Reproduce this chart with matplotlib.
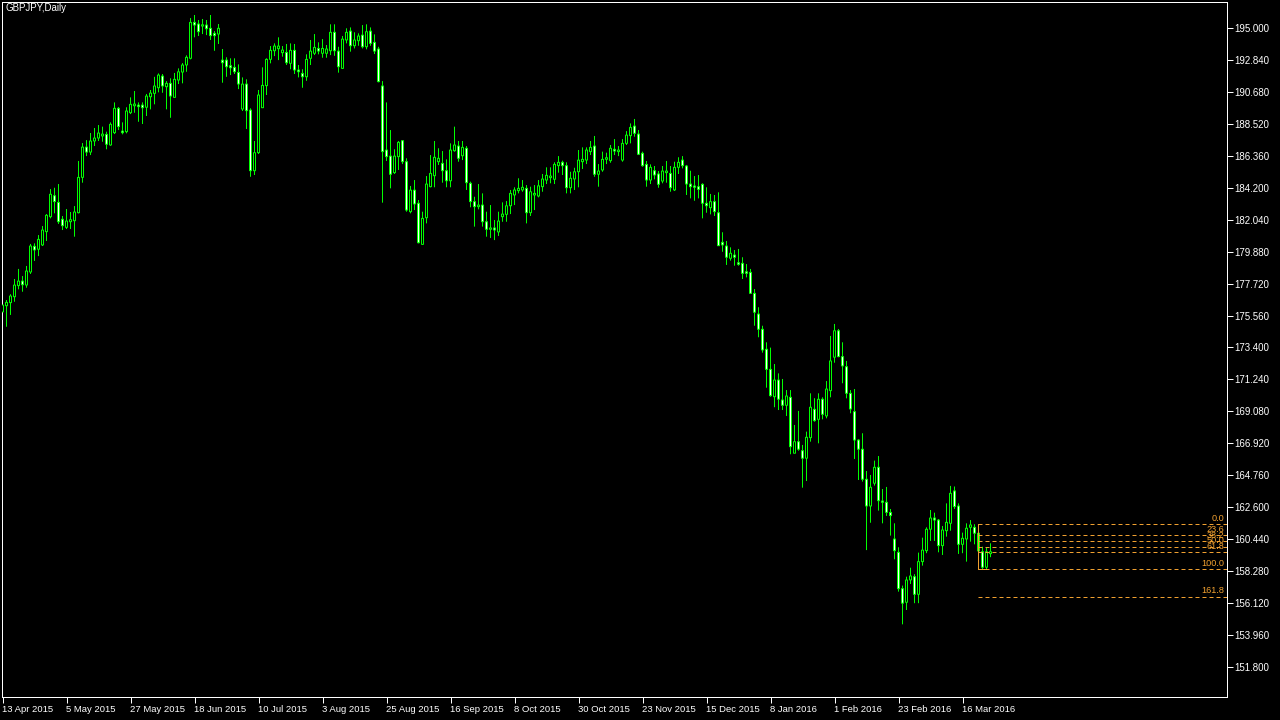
import matplotlib
matplotlib.use("Agg")
import matplotlib.pyplot as plt
import numpy as np

# GBPJPY daily bars, 13 Apr 2015 .. end of Mar 2016
opens = [
    175.80, 176.22, 176.43, 176.83, 177.58, 177.89, 177.62, 178.50, 180.24, 180.04,
    180.33, 181.23, 182.24, 183.66, 183.21, 182.07, 181.52, 181.90, 181.97, 182.51,
    184.90, 186.95, 186.61, 187.36, 187.56, 187.70, 187.81, 187.09, 187.92, 189.57,
    188.03, 187.99, 189.27, 189.74, 189.79, 189.79, 189.64, 190.35, 190.58, 190.96,
    191.75, 191.03, 191.26, 190.31, 191.48, 192.02, 192.50, 192.95, 195.38, 195.27,
    195.13, 195.20, 194.98, 194.64, 194.59, 192.83, 192.83, 192.45, 192.34, 192.00,
    189.52, 191.21, 189.45, 185.35, 186.57, 189.61, 191.10, 192.88, 193.46, 193.60,
    193.33, 193.35, 192.61, 193.49, 192.16, 191.93, 191.70, 192.95, 193.29, 193.62,
    193.29, 193.29, 193.46, 194.71, 193.44, 192.27, 194.19, 194.79, 193.80, 194.14,
    194.52, 193.73, 194.79, 194.03, 193.58, 191.08, 186.75, 186.34, 185.22, 186.30,
    187.38, 185.96, 182.58, 184.04, 183.15, 180.37, 182.17, 184.27, 185.01, 185.96,
    185.85, 185.35, 184.67, 186.70, 187.02, 186.36, 186.87, 184.50, 183.26, 182.92,
    183.03, 181.90, 181.39, 181.48, 181.21, 182.24, 182.40, 182.98, 183.71, 184.00,
    184.05, 184.16, 182.51, 183.71, 183.64, 184.27, 184.72, 184.88, 184.77, 185.69,
    185.92, 185.69, 184.20, 184.79, 185.28, 185.96, 186.07, 186.64, 187.02, 185.11,
    185.40, 186.12, 186.03, 186.80, 186.64, 186.07, 187.20, 187.72, 188.37, 187.83,
    186.53, 185.78, 184.72, 185.35, 185.13, 184.65, 185.22, 185.17, 184.05, 185.58,
    186.07, 185.67, 184.45, 184.32, 184.27, 184.43, 183.15, 182.85, 183.26, 182.51,
    180.51, 180.26, 179.43, 179.65, 179.13, 179.09, 178.52, 178.48, 177.06, 175.66,
    174.63, 173.28, 171.92, 170.07, 171.20, 169.85, 169.49, 170.03, 166.25, 167.03,
    166.42, 165.91, 167.30, 169.22, 168.54, 169.90, 168.77, 170.48, 172.74, 174.53,
    172.78, 172.10, 170.30, 169.06, 167.14, 166.52, 164.49, 162.68, 164.22, 165.30,
    163.02, 162.93, 162.25, 160.45, 159.55, 157.09, 156.17, 157.68, 157.90, 156.71,
    158.92, 159.66, 161.11, 161.87, 161.73, 160.00, 161.01, 161.51, 163.70, 162.68,
    160.09, 160.45, 161.24, 161.24, 160.84, 159.59, 158.54, 159.46,
]
highs = [
    176.75, 176.61, 177.00, 178.03, 178.71, 178.23, 178.91, 180.40, 180.44, 181.00,
    181.61, 182.42, 184.11, 184.20, 184.45, 182.29, 182.76, 182.56, 182.96, 186.01,
    187.22, 187.42, 187.90, 188.24, 188.44, 188.33, 187.99, 188.62, 189.97, 189.66,
    188.62, 189.64, 190.31, 190.74, 189.97, 189.97, 190.54, 190.81, 191.70, 191.93,
    191.89, 191.41, 191.60, 191.96, 192.27, 192.63, 193.15, 195.67, 195.88, 195.54,
    195.61, 195.54, 195.88, 194.79, 195.27, 193.58, 193.02, 192.95, 192.95, 192.54,
    191.66, 191.53, 189.57, 187.36, 190.81, 192.34, 192.95, 193.78, 193.96, 194.37,
    193.78, 193.92, 193.96, 193.92, 192.50, 192.21, 193.22, 194.19, 194.59, 194.03,
    194.25, 193.85, 195.25, 195.25, 193.73, 194.46, 194.98, 195.04, 194.71, 194.64,
    195.20, 195.25, 195.04, 194.57, 193.73, 191.41, 189.97, 188.10, 186.80, 187.36,
    187.42, 186.19, 184.32, 184.72, 183.37, 182.58, 184.99, 186.41, 187.36, 186.87,
    186.68, 186.12, 187.20, 188.33, 187.36, 187.36, 187.02, 184.61, 183.59, 184.45,
    183.82, 182.58, 183.03, 182.02, 182.58, 183.21, 183.30, 184.05, 184.23, 184.84,
    184.72, 184.38, 184.27, 184.38, 184.72, 185.13, 185.58, 185.58, 185.92, 186.34,
    186.03, 185.92, 185.28, 185.55, 186.75, 186.93, 186.93, 187.36, 187.70, 185.80,
    186.64, 186.57, 187.09, 187.49, 187.02, 187.49, 188.03, 188.55, 188.85, 188.10,
    186.64, 186.01, 185.78, 185.67, 185.33, 185.67, 186.01, 185.67, 185.96, 186.26,
    186.34, 185.74, 185.35, 184.99, 185.06, 184.50, 184.23, 183.78, 183.71, 183.89,
    181.19, 180.60, 180.17, 179.99, 180.06, 179.50, 179.04, 178.71, 177.35, 176.12,
    174.87, 173.75, 173.39, 172.28, 171.65, 171.27, 170.52, 170.52, 168.16, 169.11,
    166.81, 167.71, 170.30, 169.97, 170.30, 170.03, 171.13, 174.18, 174.99, 174.65,
    173.75, 172.49, 170.52, 170.59, 167.19, 167.60, 165.05, 164.78, 165.75, 166.06,
    163.83, 163.97, 162.48, 161.51, 159.89, 157.30, 157.90, 158.51, 158.07, 159.53,
    160.54, 161.24, 162.41, 162.23, 161.80, 161.33, 162.86, 164.04, 164.00, 162.86,
    160.88, 161.51, 161.73, 161.45, 160.99, 159.93, 159.86, 160.16,
]
lows = [
    174.85, 174.80, 175.60, 176.49, 177.33, 177.17, 177.44, 178.37, 179.25, 179.58,
    180.26, 180.60, 182.13, 182.47, 181.75, 181.34, 181.41, 181.41, 180.89, 182.47,
    184.54, 186.34, 186.41, 187.02, 187.36, 187.31, 186.80, 187.04, 187.83, 188.10,
    187.81, 187.88, 189.18, 189.27, 188.66, 188.51, 189.05, 189.50, 189.84, 190.65,
    190.62, 189.50, 188.93, 190.31, 191.21, 191.26, 192.04, 192.88, 194.37, 194.46,
    194.59, 194.52, 194.19, 193.46, 193.92, 191.30, 191.70, 191.82, 191.89, 190.87,
    189.39, 188.17, 184.94, 185.06, 186.48, 189.61, 190.47, 192.61, 193.10, 192.83,
    193.06, 192.50, 192.21, 191.89, 191.66, 190.96, 191.43, 192.50, 193.17, 193.22,
    192.99, 192.99, 193.17, 193.12, 191.98, 192.23, 193.96, 193.40, 193.62, 193.80,
    193.62, 193.56, 193.80, 193.24, 191.33, 183.19, 186.01, 184.16, 185.13, 185.40,
    185.80, 182.58, 182.47, 182.69, 180.44, 180.33, 181.79, 184.23, 184.23, 185.74,
    184.54, 184.23, 184.23, 186.64, 185.96, 186.07, 184.05, 182.88, 181.57, 182.74,
    181.57, 180.89, 180.80, 180.66, 180.94, 181.90, 181.90, 182.42, 183.03, 183.82,
    183.93, 181.79, 182.29, 182.69, 183.55, 183.93, 184.45, 184.50, 184.45, 185.22,
    185.06, 183.82, 183.82, 184.05, 184.23, 185.47, 185.80, 186.41, 184.94, 184.27,
    185.28, 185.80, 185.89, 186.41, 186.34, 185.96, 187.09, 187.20, 187.65, 186.41,
    185.62, 184.27, 184.45, 184.77, 184.20, 184.50, 184.54, 183.93, 183.98, 185.13,
    185.51, 183.71, 183.48, 183.32, 183.48, 182.13, 182.51, 182.40, 182.29, 180.26,
    179.87, 178.98, 179.27, 178.93, 178.93, 178.03, 178.14, 177.02, 174.87, 174.09,
    173.05, 170.68, 170.07, 169.36, 169.17, 169.17, 168.77, 166.18, 166.25, 166.42,
    163.92, 164.37, 167.03, 168.38, 166.92, 168.54, 168.61, 170.03, 172.37, 172.74,
    170.98, 169.96, 168.95, 165.86, 164.44, 164.33, 159.70, 161.55, 164.06, 162.37,
    161.51, 162.01, 160.68, 159.08, 156.89, 154.68, 155.65, 157.41, 156.11, 156.11,
    158.65, 159.49, 160.32, 160.32, 159.55, 159.37, 160.61, 161.01, 162.48, 159.44,
    159.49, 158.92, 160.27, 160.09, 159.51, 158.36, 158.40, 159.22,
]
closes = [
    176.27, 176.45, 176.88, 177.62, 177.89, 177.64, 178.57, 180.26, 179.99, 180.71,
    181.34, 182.34, 183.76, 183.26, 181.90, 181.63, 181.95, 182.04, 182.56, 184.90,
    186.95, 186.61, 187.36, 187.56, 187.90, 187.83, 187.14, 188.49, 189.57, 188.33,
    187.92, 189.39, 189.84, 189.86, 189.68, 189.61, 190.40, 190.60, 191.08, 191.82,
    191.08, 191.26, 190.40, 191.53, 192.04, 192.50, 193.02, 195.38, 195.20, 194.75,
    195.22, 194.95, 194.48, 194.48, 194.98, 192.65, 192.38, 192.31, 192.04, 191.21,
    191.21, 189.41, 185.35, 186.57, 190.47, 191.12, 192.88, 193.49, 193.78, 193.78,
    193.51, 192.65, 193.49, 192.16, 192.04, 191.70, 192.88, 193.44, 193.69, 193.44,
    193.62, 193.58, 194.71, 193.46, 192.38, 194.25, 194.71, 193.80, 194.19, 194.46,
    193.73, 194.75, 193.96, 193.44, 191.37, 186.64, 186.30, 185.11, 186.34, 187.27,
    185.96, 182.69, 184.04, 183.10, 180.48, 182.13, 184.45, 185.17, 186.26, 186.19,
    185.35, 184.67, 186.75, 187.09, 186.19, 186.93, 184.54, 183.26, 182.92, 183.03,
    181.90, 181.39, 181.48, 181.34, 181.95, 182.42, 182.98, 183.82, 184.05, 184.16,
    184.23, 182.51, 183.93, 183.82, 184.33, 184.79, 185.04, 184.99, 185.78, 185.92,
    185.69, 184.20, 184.84, 185.28, 186.07, 186.12, 186.75, 186.93, 185.11, 185.33,
    186.12, 186.23, 186.87, 186.68, 186.75, 187.20, 187.76, 188.28, 187.88, 186.46,
    185.69, 184.72, 185.58, 185.06, 184.43, 185.33, 185.33, 184.20, 185.58, 185.92,
    185.69, 184.45, 184.27, 184.23, 184.09, 183.15, 182.98, 183.26, 182.58, 180.28,
    180.33, 179.50, 179.77, 179.50, 179.02, 178.41, 178.41, 177.06, 175.78, 174.63,
    173.23, 171.92, 170.14, 171.20, 169.90, 169.49, 170.12, 166.69, 167.03, 166.52,
    165.91, 167.33, 169.36, 168.45, 169.90, 168.88, 170.59, 172.49, 174.53, 172.78,
    172.15, 170.30, 169.24, 167.14, 166.52, 164.49, 162.68, 163.95, 165.30, 163.04,
    162.93, 162.25, 162.03, 159.66, 157.09, 156.11, 157.68, 157.95, 156.71, 158.92,
    159.70, 161.11, 161.87, 161.73, 160.00, 161.06, 161.58, 163.54, 162.64, 160.09,
    160.50, 161.18, 161.40, 160.84, 159.64, 158.54, 159.59, 159.59,
]

date_labels = ["13 Apr 2015", "5 May 2015", "27 May 2015", "18 Jun 2015", "10 Jul 2015",
               "3 Aug 2015", "25 Aug 2015", "16 Sep 2015", "8 Oct 2015", "30 Oct 2015",
               "23 Nov 2015", "15 Dec 2015", "8 Jan 2016", "1 Feb 2016", "23 Feb 2016",
               "16 Mar 2016"]
date_bars = [0, 16, 32, 48, 64, 80, 96, 112, 128, 144, 160, 176, 192, 208, 224, 240]
price_ticks = [195.000, 192.840, 190.680, 188.520, 186.360, 184.200, 182.040, 179.880,
               177.720, 175.560, 173.400, 171.240, 169.080, 166.920, 164.760, 162.600,
               160.440, 158.280, 156.120, 153.960, 151.800]

# fibonacci retracement drawn on the last swing
fib_high = 161.44
fib_low = 158.42
fib_start_bar = 243.8
fib_levels = [0.0, 23.6, 38.2, 50.0, 61.8, 100.0, 161.8]

GREEN = "#00FF00"
ORANGE = "#F0A030"

plt.rcParams["font.family"] = ["Liberation Sans", "DejaVu Sans"]

W, H = 1280, 720
fig = plt.figure(figsize=(W / 100, H / 100), dpi=100, facecolor="black")
ax = fig.add_axes([2 / W, 23 / H, 1225 / W, 695 / H])
ax.set_facecolor("black")

ax.set_xlim(-0.125, 306.125)   # 4 px per bar, bar centres on pixel centres
ax.set_ylim(149.767, 196.758)
px = (196.758 - 149.767) / 695.0   # price per pixel
LW = 72.0 / 100                    # one pixel in points

o = np.array(opens)
h = np.array(highs)
l = np.array(lows)
c = np.array(closes)
x = np.arange(len(o))

# wicks
wicks = ax.vlines(x, l, h, colors=GREEN, linewidth=LW, zorder=2)
wicks.set_snap(False)

# bodies: green 1 px outline, black (up) / white (down) inside
bottom = np.minimum(o, c)
height = np.maximum(np.abs(c - o), px * 0.5)
face = ["black" if cc >= oo else "white" for oo, cc in zip(o, c)]
bars = ax.bar(x, height, bottom=bottom, width=0.5, color=face, edgecolor=GREEN,
              linewidth=LW, zorder=3)
for b in bars:
    b.set_snap(False)

# fibo levels
xmax = ax.get_xlim()[1]
rng = fib_high - fib_low
for lev in fib_levels:
    y = fib_high - rng * lev / 100.0
    ax.hlines(y, fib_start_bar, xmax, colors=ORANGE, linewidth=LW,
              linestyles=(0, (4, 3)), zorder=5)
    ax.annotate(f"{lev:.1f}", xy=(1.0, y), xycoords=("axes fraction", "data"),
                xytext=(-2, 1), textcoords="offset points", ha="right", va="bottom",
                color=ORANGE, fontsize=6.6, zorder=6)
ax.plot([fib_start_bar, fib_start_bar, fib_start_bar + 2.2],
        [fib_high, fib_low, fib_low], color=ORANGE, linewidth=LW, zorder=5)

# axes look like the terminal window
for sp in ax.spines.values():
    sp.set_color("white")
    sp.set_linewidth(LW)

ax.yaxis.tick_right()
ax.set_yticks(price_ticks)
ax.set_yticklabels([f"{p:.3f}" for p in price_ticks])
ax.tick_params(axis="y", colors="white", labelcolor="white", labelsize=7,
               length=4, width=LW, direction="out", pad=1)

ax.set_xticks(date_bars)
ax.set_xticklabels(date_labels, ha="left")
ax.tick_params(axis="x", colors="white", labelcolor="white", labelsize=6.8,
               length=4, width=LW, direction="out", pad=2)

fig.text(6 / W, 1 - 3 / H, "GBPJPY,Daily", color="white", fontsize=7,
         ha="left", va="top")

fig.savefig("out.png", dpi=100, facecolor="black")
